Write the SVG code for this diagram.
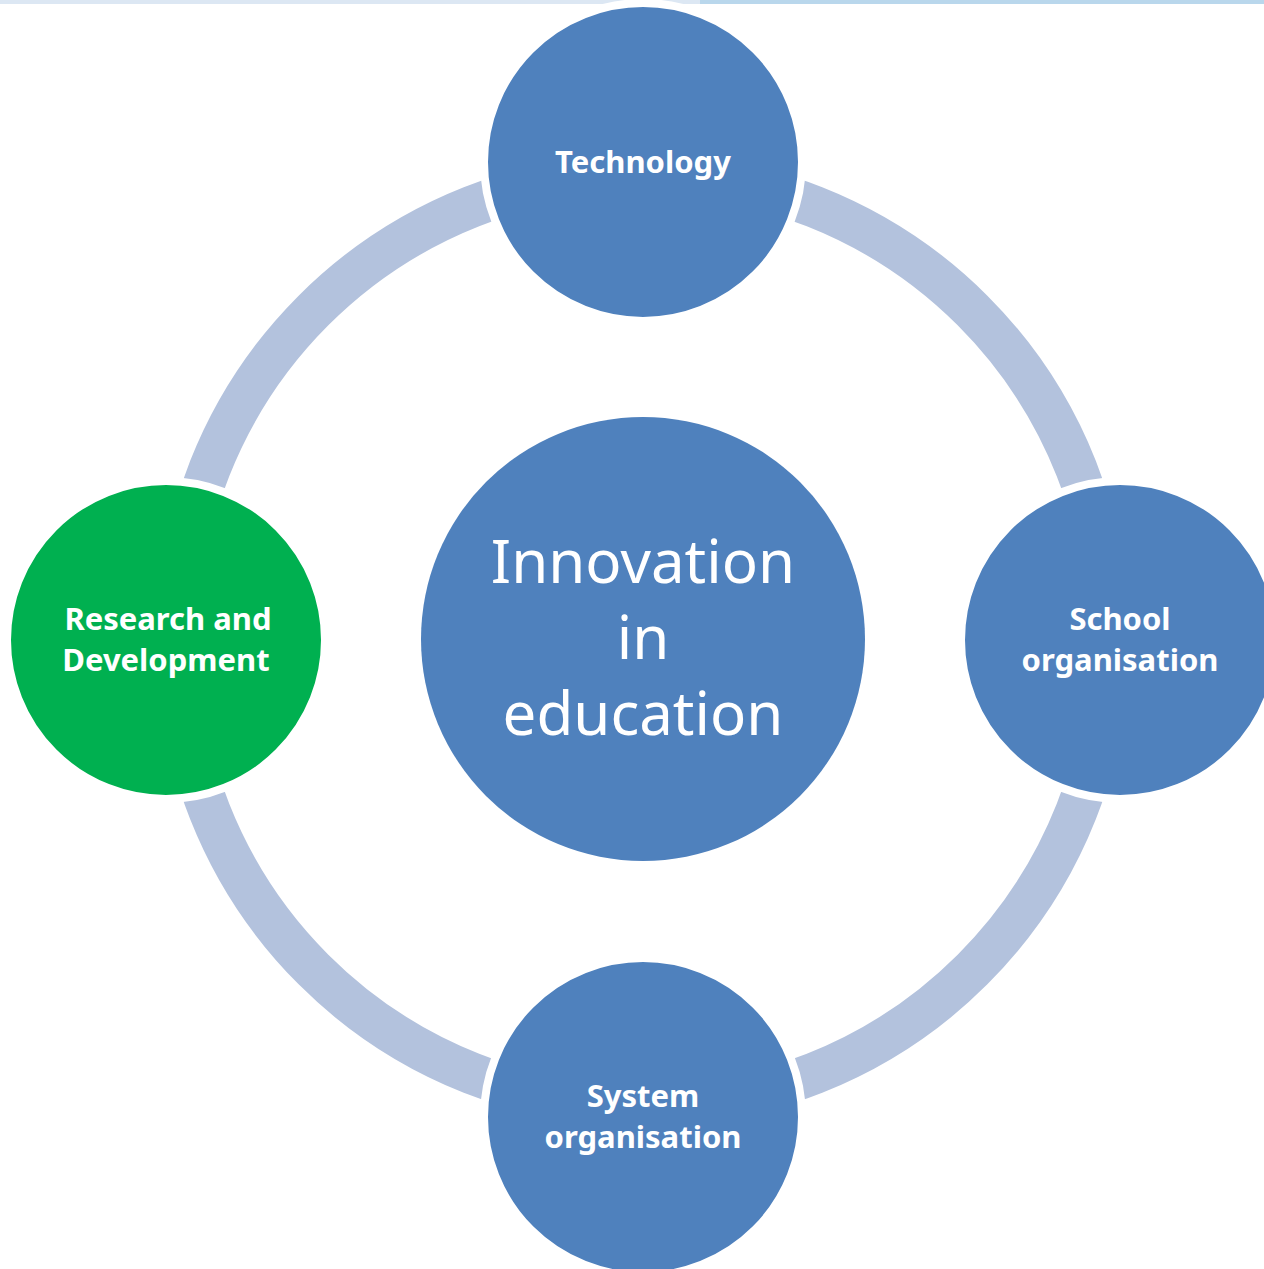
<svg xmlns="http://www.w3.org/2000/svg" width="1264" height="1269" viewBox="0 0 1264 1269">
<style>
.node{fill:#4F81BD;stroke:#FFFFFF;stroke-width:8}
.green{fill:#00B050}
.lbl{font-family:"Noto Sans","Open Sans","DejaVu Sans",sans-serif;font-weight:bold;font-size:31px;fill:#FFFFFF;text-anchor:middle}
.big{font-family:"Noto Sans","Open Sans","DejaVu Sans",sans-serif;font-size:60px;fill:#FFFFFF;text-anchor:middle}
</style>
<rect width="1264" height="1269" fill="#FFFFFF"/>
<rect x="0" y="0" width="700" height="4" fill="#DCE7F3"/>
<rect x="700" y="0" width="564" height="4" fill="#B9D7EC"/>
<g id="connectors">
<circle cx="643" cy="640" r="466" fill="none" stroke="#B3C2DD" stroke-width="42"/>
</g>
<g id="center">
<circle cx="643" cy="639" r="222" fill="#4F81BD"/>
<text class="big" x="643" y="583">Innovation</text>
<text class="big" x="643" y="659">in</text>
<text class="big" x="643" y="735">education</text>
</g>
<g id="technology">
<circle class="node" cx="643" cy="162" r="159"/>
<text class="lbl" x="643" y="173">Technology</text>
</g>
<g id="school">
<circle class="node" cx="1120" cy="640" r="159"/>
<text class="lbl" x="1120" y="630">School</text>
<text class="lbl" x="1120" y="671">organisation</text>
</g>
<g id="system">
<circle class="node" cx="643" cy="1117" r="159"/>
<text class="lbl" x="643" y="1107">System</text>
<text class="lbl" x="643" y="1148">organisation</text>
</g>
<g id="research">
<circle class="node green" cx="166" cy="640" r="159"/>
<text class="lbl" x="168" y="630">Research and</text>
<text class="lbl" x="166" y="671">Development</text>
</g>
</svg>
